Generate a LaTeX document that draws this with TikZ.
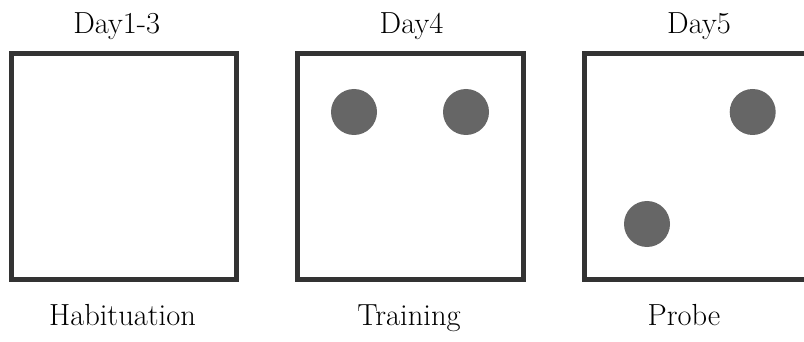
\documentclass[tikz,border=0pt]{standalone}
\usepackage{fontspec}
\definecolor{framec}{HTML}{333333}
\definecolor{dotc}{HTML}{666666}
\begin{document}
\begin{tikzpicture}[x=1pt,y=-1pt,
  arena/.style={draw=framec,line width=5pt,fill=white},
  obj/.style={circle,fill=dotc,minimum size=46pt,inner sep=0pt},
  lbl/.style={font=\rmfamily\fontsize{30.5}{36}\selectfont,anchor=base,inner sep=0pt}]
\useasboundingbox (0,0) rectangle (804,342);
\clip (0,0) rectangle (804,342);
\fill[white] (0,0) rectangle (804,342);
% arenas
\draw[arena] (11.5,53.5) rectangle (236.5,279);
\draw[arena] (297.5,53.5) rectangle (523,279);
\draw[arena] (584,53.5) rectangle (809,279);
% objects
\node[obj] (a) at (354,112) {};
\node[obj] (b) at (466,112) {};
\node[obj] (c) at (752.7,112) {};
\node[obj] (d) at (647,224) {};
% labels
\node[lbl] (t1) at (116.7,33.3) {Day1-3};
\node[lbl] (t2) at (411.5,33.3) {Day4};
\node[lbl] (t3) at (699,33.3) {Day5};
\node[lbl] (b1) at (122.5,325.7) {Habituation};
\node[lbl] (b2) at (409,325.7) {Training};
\node[lbl] (b3) at (684,325.7) {Probe};
\end{tikzpicture}
\end{document}
